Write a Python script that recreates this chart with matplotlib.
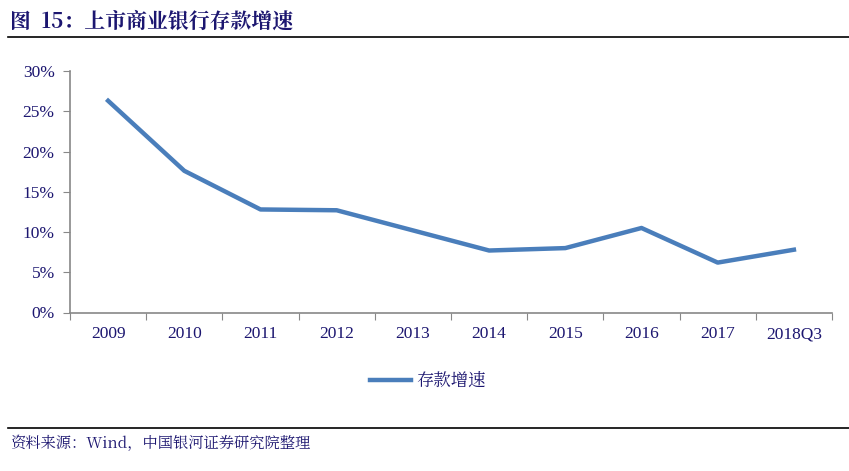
import matplotlib
matplotlib.use("Agg")
import matplotlib.pyplot as plt
from matplotlib.lines import Line2D
from matplotlib.ticker import FuncFormatter, FixedLocator, NullFormatter
import numpy as np

categories = ["2009", "2010", "2011", "2012", "2013", "2014", "2015", "2016", "2017", "2018Q3"]
deposit_growth = [26.3, 17.6, 12.8, 12.7, 10.2, 7.7, 8.0, 10.5, 6.2, 7.8]
y_ticks = [0, 5, 10, 15, 20, 25, 30]

title = "图  15：上市商业银行存款增速"
series_name = "存款增速"
source = "资料来源：Wind，中国银河证券研究院整理"

text_color = "#1c1670"
line_color = "#4a7ebb"
serif = ["Liberation Serif", "Noto Sans CJK SC"]
cjk = ["Noto Serif CJK SC", "Noto Sans CJK SC", "DejaVu Sans"]

W, H = 849, 471
fig = plt.figure(figsize=(W / 100, H / 100), dpi=100)

ax = fig.add_axes([70 / W, 1 - 312.5 / H, (832 - 70) / W, (312.5 - 71) / H])
x = np.arange(len(categories))
ax.plot(x, deposit_growth, color=line_color, lw=3.2, solid_joinstyle="round")

ax.set_xlim(-0.5, len(categories) - 0.5)
ax.set_ylim(0, 30)
ax.set_yticks(y_ticks)
ax.yaxis.set_major_formatter(FuncFormatter(lambda v, p: f"{v:.0f}%"))
ax.xaxis.set_major_locator(FixedLocator(np.arange(len(categories) + 1) - 0.5))
ax.xaxis.set_major_formatter(NullFormatter())
ax.xaxis.set_minor_locator(FixedLocator(x))
ax.set_xticks(x, categories, minor=True)
ax.tick_params(axis="x", which="minor", length=0, pad=10)
ax.tick_params(axis="x", which="major", length=5, color="#888888", direction="out")
ax.tick_params(axis="y", length=5, color="#888888", pad=6)

for lbl in ax.get_xticklabels(minor=True) + ax.get_yticklabels():
    lbl.set_family(serif)
    lbl.set_fontsize(12.5)
    lbl.set_color(text_color)

for s in ["top", "right"]:
    ax.spines[s].set_visible(False)
for s in ["left", "bottom"]:
    ax.spines[s].set_color("#888888")
    ax.spines[s].set_linewidth(1.2)

# legend
handle = Line2D([], [], color=line_color, lw=3.2)
leg = fig.legend([handle], [series_name], loc="center", bbox_to_anchor=(428 / W, 1 - 381 / H),
                 frameon=False, handlelength=2.4, handletextpad=0.3,
                 prop={"family": cjk, "size": 12.5})
for t in leg.get_texts():
    t.set_color(text_color)

# title and rules
fig.text(10 / W, 1 - 22 / H, title, family=cjk, fontsize=15, fontweight="bold",
         color=text_color, va="center", ha="left")
fig.add_artist(Line2D([8 / W, 1], [1 - 37 / H] * 2, color="black", lw=1.2))
fig.add_artist(Line2D([8 / W, 1], [1 - 428 / H] * 2, color="black", lw=1.2))
fig.text(10 / W, 1 - 444 / H, source, family=cjk, fontsize=11, style="italic",
         color=text_color, va="center", ha="left")

fig.savefig("out.png", dpi=100)
